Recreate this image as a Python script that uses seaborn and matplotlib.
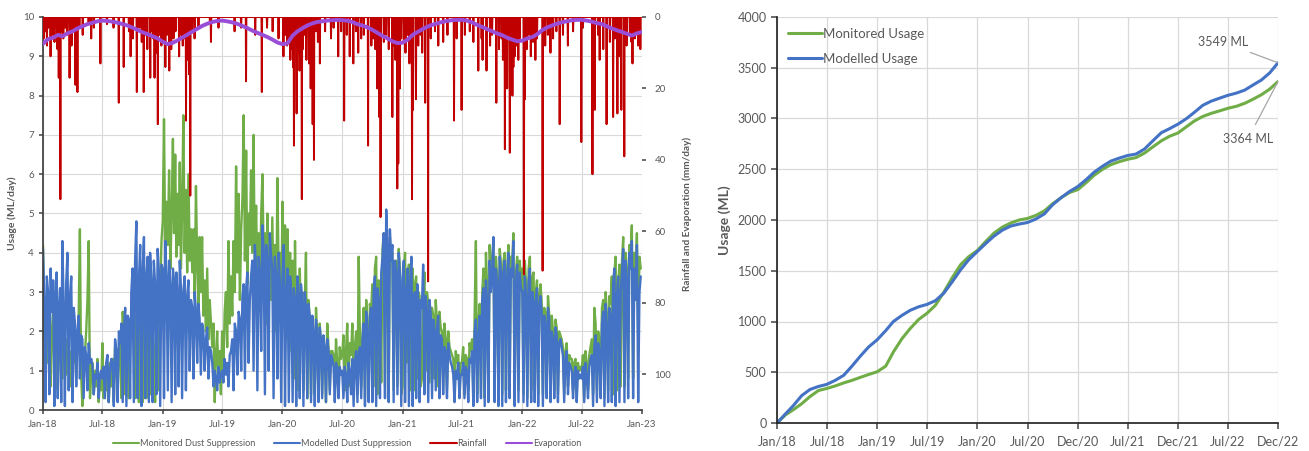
import numpy as np
import pandas as pd
import matplotlib
matplotlib.use("Agg")
import matplotlib.pyplot as plt
import matplotlib.dates as mdates
from matplotlib.lines import Line2D
import seaborn as sns

# ---------------- DATA ----------------
# Dust suppression usage (ML/day), 8 readings per month, Jan 2018 - Dec 2022
monitored_dust = [
    # 2018
    4.2, 2.0, 1.5, 2.8, 1.2, 2.4, 0.6, 2.0,   2.5, 1.0, 2.2, 1.8, 0.5, 2.0, 1.6, 0.9,
    0.8, 2.0, 1.6, 0.9, 1.8, 1.3, 0.6, 1.5,   1.5, 1.2, 2.0, 0.8, 1.6, 2.4, 4.6, 0.9,
    0.1, 1.0, 1.4, 2.0, 2.8, 4.3, 0.3, 1.0,   1.2, 0.4, 1.0, 0.6, 1.3, 0.2, 0.9, 0.5,
    1.7, 0.3, 1.1, 0.5, 0.9, 0.2, 1.2, 0.6,   1.3, 0.2, 1.6, 1.2, 0.4, 1.5, 2.0, 0.3,
    2.5, 1.8, 0.4, 2.2, 1.6, 0.3, 2.3, 1.9,   2.2, 1.8, 0.3, 2.4, 1.6, 0.2, 2.1, 1.5,
    0.2, 2.3, 1.9, 0.3, 2.1, 1.7, 0.4, 2.0,   2.0, 1.5, 0.2, 2.3, 1.8, 0.5, 3.0, 4.3,
    # 2019
    4.8, 7.4, 3.8, 5.3, 4.2, 6.1, 3.6, 5.0,   6.9, 4.5, 6.5, 3.9, 5.5, 4.2, 6.3, 3.6,
    5.0, 7.5, 4.0, 5.6, 3.5, 6.0, 3.8, 4.6,   3.5, 4.6, 2.8, 5.7, 3.8, 2.6, 4.4, 3.0,
    4.4, 2.4, 3.3, 2.0, 3.6, 1.8, 2.8, 2.2,   1.6, 2.2, 0.2, 1.4, 2.0, 0.8, 1.5, 0.4,
    2.0, 1.0, 2.5, 3.0, 1.6, 4.3, 2.2, 3.4,   2.4, 4.3, 3.0, 6.2, 3.5, 5.5, 2.8, 4.6,
    5.4, 7.5, 3.8, 6.6, 3.2, 5.0, 4.2, 6.1,   4.0, 7.0, 3.5, 5.2, 3.2, 4.5, 2.5, 5.0,
    6.0, 3.8, 4.5, 2.2, 5.0, 3.2, 4.4, 2.8,   4.9, 3.0, 4.2, 2.0, 5.9, 3.4, 4.0, 2.5,
    # 2020
    5.3, 3.0, 4.7, 1.8, 4.6, 2.5, 4.0, 1.5,   3.8, 0.8, 4.3, 2.0, 3.2, 0.5, 3.6, 2.2,
    3.0, 0.5, 2.6, 4.0, 0.3, 2.8, 2.2, 0.4,   2.2, 1.9, 0.4, 2.6, 1.8, 0.3, 2.2, 1.7,
    0.4, 1.8, 1.5, 0.2, 2.2, 1.6, 0.5, 1.5,   1.5, 1.4, 0.6, 1.8, 1.2, 0.4, 1.6, 1.3,
    1.4, 1.9, 0.5, 1.5, 2.2, 0.6, 1.7, 1.4,   2.2, 0.8, 1.6, 2.0, 0.4, 3.9, 1.8, 0.6,
    1.9, 2.6, 0.3, 2.8, 2.1, 0.5, 2.7, 2.5,   3.2, 0.6, 3.6, 3.9, 0.4, 3.3, 3.0, 0.7,
    4.1, 4.5, 0.6, 4.3, 4.0, 0.5, 4.4, 3.9,   4.0, 0.5, 3.7, 3.8, 0.6, 4.1, 3.6, 0.4,
    # 2021
    0.6, 3.5, 4.0, 1.2, 3.2, 3.7, 0.5, 3.4,   3.6, 0.5, 3.2, 3.4, 0.8, 3.0, 2.9, 0.6,
    0.8, 2.8, 3.5, 1.0, 3.0, 2.7, 0.7, 2.6,   2.6, 2.4, 0.8, 2.8, 2.2, 0.6, 2.5, 2.1,
    2.0, 0.6, 2.2, 1.8, 0.5, 2.0, 1.6, 1.5,   1.4, 1.3, 0.4, 1.5, 1.2, 1.4, 0.5, 1.2,
    1.2, 1.6, 0.4, 1.4, 1.3, 0.5, 1.7, 1.5,   1.8, 0.3, 2.4, 4.3, 0.4, 2.2, 2.7, 0.5,
    3.0, 3.6, 0.3, 4.0, 3.1, 0.4, 4.2, 3.4,   3.8, 4.3, 0.5, 3.9, 3.4, 0.4, 4.1, 3.7,
    0.4, 3.8, 4.0, 0.5, 3.6, 4.2, 0.6, 3.9,   3.7, 4.5, 0.3, 3.5, 3.9, 0.5, 3.8, 3.3,
    # 2022
    3.6, 0.4, 3.8, 3.2, 0.3, 3.6, 3.9, 0.5,   3.4, 3.5, 0.6, 3.0, 3.3, 0.4, 2.9, 3.2,
    2.8, 0.4, 2.6, 2.5, 0.5, 2.9, 2.4, 0.6,   2.4, 2.0, 0.5, 2.3, 2.1, 0.4, 2.0, 1.9,
    1.8, 1.6, 0.4, 1.5, 1.7, 0.6, 1.4, 1.3,   1.3, 0.5, 1.2, 1.3, 0.4, 1.2, 1.0, 1.1,
    1.0, 1.4, 0.3, 1.5, 1.2, 0.5, 1.4, 1.6,   1.8, 0.4, 2.6, 2.2, 0.5, 2.0, 1.8, 0.6,
    2.6, 2.8, 0.3, 3.0, 2.4, 0.5, 2.9, 2.7,   3.4, 0.4, 3.5, 3.9, 0.5, 3.2, 3.7, 0.6,
    3.8, 4.4, 0.6, 4.0, 3.6, 0.8, 4.2, 3.9,   4.7, 0.8, 4.0, 3.6, 4.5, 2.0, 3.9, 3.6,
]

modelled_dust = [
    # 2018
    4.1, 2.8, 0.2, 3.4, 3.0, 0.4, 3.6, 2.5,   3.3, 0.1, 2.9, 3.5, 0.3, 2.6, 3.1, 0.2,
    4.3, 2.7, 0.1, 3.2, 4.0, 0.5, 2.9, 3.4,   0.2, 2.6, 2.2, 0.6, 2.0, 2.4, 0.8, 1.9,
    1.8, 0.3, 1.6, 1.4, 0.5, 1.7, 1.2, 1.3,   1.1, 0.4, 0.9, 0.8, 1.2, 0.3, 0.9, 1.0,
    0.8, 1.1, 0.3, 1.2, 1.4, 0.2, 1.0, 1.3,   1.2, 0.1, 1.8, 1.5, 0.2, 2.0, 1.7, 2.2,
    0.2, 2.0, 2.6, 0.1, 2.4, 2.3, 0.3, 3.0,   3.6, 0.2, 3.8, 4.8, 0.3, 3.3, 4.2, 0.1,
    3.6, 4.4, 0.3, 3.4, 3.9, 0.2, 4.0, 3.3,   0.2, 3.8, 3.2, 0.4, 4.1, 3.5, 0.1, 3.7,
    # 2019
    3.6, 0.3, 4.3, 3.4, 0.5, 3.8, 3.2, 0.2,   3.6, 3.3, 0.4, 3.5, 2.9, 0.6, 3.8, 3.1,
    0.3, 3.0, 3.4, 0.5, 2.9, 3.3, 1.0, 2.8,   2.6, 0.8, 3.0, 2.5, 1.2, 2.7, 2.3, 0.9,
    2.2, 2.0, 1.0, 1.8, 2.1, 0.8, 1.6, 1.5,   1.2, 0.6, 1.0, 0.8, 0.5, 1.1, 0.7, 0.9,
    1.0, 0.7, 1.3, 0.9, 1.2, 0.6, 1.4, 1.5,   1.8, 0.5, 2.2, 2.0, 0.9, 2.5, 2.3, 1.0,
    2.9, 3.2, 0.8, 3.1, 3.5, 1.2, 2.8, 3.4,   3.8, 1.0, 4.2, 3.6, 0.5, 3.9, 3.5, 1.5,
    4.7, 4.0, 0.4, 4.2, 3.8, 1.0, 4.5, 3.9,   3.6, 0.3, 3.9, 3.4, 0.8, 4.0, 3.2, 0.2,
    # 2020
    3.3, 4.2, 0.1, 3.0, 3.6, 0.2, 3.4, 2.9,   0.2, 3.1, 2.8, 0.1, 3.4, 2.9, 0.3, 3.2,
    2.8, 0.1, 3.0, 2.6, 0.3, 2.7, 2.4, 0.2,   2.4, 2.0, 0.1, 2.3, 1.9, 0.2, 2.1, 1.8,
    0.3, 1.9, 1.6, 0.2, 1.8, 1.5, 0.4, 1.4,   1.3, 1.1, 0.2, 1.2, 1.0, 0.3, 1.1, 0.9,
    1.0, 0.3, 1.1, 0.9, 0.2, 1.2, 1.0, 0.4,   1.3, 0.1, 1.2, 1.5, 0.2, 1.4, 1.6, 0.3,
    1.8, 2.2, 0.1, 2.5, 1.9, 0.2, 2.4, 2.6,   0.2, 3.0, 3.4, 0.1, 3.1, 2.8, 0.3, 3.5,
    3.9, 4.5, 0.3, 5.1, 4.2, 0.2, 4.6, 3.8,   4.2, 0.2, 3.8, 3.5, 0.4, 4.0, 3.4, 0.1,
    # 2021
    3.3, 3.8, 0.2, 3.0, 3.6, 0.1, 3.2, 3.9,   0.1, 2.9, 3.0, 0.3, 3.2, 2.7, 0.2, 2.8,
    2.6, 3.7, 0.4, 2.9, 2.5, 0.2, 2.8, 2.4,   0.3, 2.3, 2.0, 0.5, 2.1, 2.4, 0.3, 1.9,
    1.8, 0.4, 1.6, 1.5, 0.3, 1.7, 1.4, 1.2,   1.1, 0.9, 0.2, 1.0, 0.8, 1.2, 0.3, 0.9,
    0.9, 1.2, 0.3, 1.1, 1.0, 0.2, 1.3, 1.2,   1.5, 0.1, 2.0, 2.3, 0.2, 1.9, 2.4, 0.3,
    2.8, 3.1, 0.1, 3.3, 2.7, 0.2, 3.8, 3.0,   3.4, 4.4, 0.2, 3.6, 3.2, 0.1, 3.9, 3.5,
    0.1, 3.5, 3.8, 0.2, 3.3, 4.0, 0.3, 3.6,   3.4, 4.3, 0.1, 3.2, 3.7, 0.2, 3.5, 3.1,
    # 2022
    3.0, 0.2, 3.4, 2.9, 0.1, 3.3, 3.6, 0.2,   3.0, 2.7, 0.2, 2.8, 3.1, 0.1, 2.6, 2.9,
    2.5, 0.1, 2.4, 2.2, 0.3, 2.6, 2.3, 0.2,   2.0, 1.8, 0.3, 2.1, 1.9, 0.2, 1.7, 1.8,
    1.6, 1.4, 0.2, 1.3, 1.5, 0.4, 1.2, 1.1,   1.0, 0.3, 0.9, 1.1, 0.2, 1.0, 0.8, 0.9,
    0.8, 1.1, 0.2, 1.2, 0.9, 0.3, 1.1, 1.3,   1.4, 0.1, 1.6, 1.9, 0.2, 1.7, 1.5, 0.3,
    2.2, 2.5, 0.1, 2.7, 2.1, 0.2, 2.6, 2.4,   0.2, 3.2, 3.6, 0.1, 2.9, 3.4, 0.2, 3.0,
    3.5, 4.1, 0.2, 3.8, 3.3, 0.3, 4.0, 3.6,   4.3, 0.3, 3.6, 2.8, 4.2, 0.2, 3.0, 3.4,
]

# Rainfall events (mm/day); all other days are dry
rain_dates = [
    "2018-01-03", "2018-01-09", "2018-01-13", "2018-01-17", "2018-01-24", "2018-01-29",
    "2018-02-05", "2018-02-10", "2018-02-14", "2018-02-18", "2018-02-23", "2018-02-27",
    "2018-03-04", "2018-03-10", "2018-03-15", "2018-03-23", "2018-03-29", "2018-04-03",
    "2018-04-10", "2018-04-16", "2018-04-22", "2018-05-02", "2018-05-20", "2018-05-28",
    "2018-06-05", "2018-06-25", "2018-07-15", "2018-08-04", "2018-08-20", "2018-09-04",
    "2018-09-20", "2018-09-25", "2018-10-02", "2018-10-14", "2018-10-22", "2018-10-29",
    "2018-11-04", "2018-11-10", "2018-11-15", "2018-11-24", "2018-11-30", "2018-12-03",
    "2018-12-07", "2018-12-12", "2018-12-17", "2018-12-22", "2018-12-28",
    "2019-01-03", "2019-01-09", "2019-01-14", "2019-01-21", "2019-01-27", "2019-02-03",
    "2019-02-09", "2019-02-20", "2019-02-26", "2019-03-03", "2019-03-07", "2019-03-13",
    "2019-03-19", "2019-03-22", "2019-03-26", "2019-03-31", "2019-04-08", "2019-04-20",
    "2019-05-25", "2019-05-28", "2019-06-20", "2019-08-08", "2019-08-28", "2019-09-12",
    "2019-10-10", "2019-10-30", "2019-11-15", "2019-12-02", "2019-12-20",
    "2020-01-04", "2020-01-10", "2020-01-15", "2020-01-20", "2020-01-25", "2020-01-30",
    "2020-02-02", "2020-02-05", "2020-02-08", "2020-02-13", "2020-02-18", "2020-02-22",
    "2020-02-25", "2020-02-29", "2020-03-03", "2020-03-08", "2020-03-14", "2020-03-22",
    "2020-03-27", "2020-04-02", "2020-04-06", "2020-04-13", "2020-04-18", "2020-04-24",
    "2020-05-10", "2020-05-28", "2020-06-05", "2020-06-19", "2020-06-28", "2020-07-07",
    "2020-07-15", "2020-07-24", "2020-08-04", "2020-08-12", "2020-08-19", "2020-08-28",
    "2020-09-05", "2020-09-18", "2020-09-28", "2020-10-05", "2020-10-10", "2020-10-16",
    "2020-10-22", "2020-10-26", "2020-11-05", "2020-11-12", "2020-11-20", "2020-12-01",
    "2020-12-05", "2020-12-10", "2020-12-16", "2020-12-19", "2020-12-24", "2020-12-28",
    "2021-01-05", "2021-01-10", "2021-01-16", "2021-01-22", "2021-01-30", "2021-02-02",
    "2021-02-11", "2021-02-18", "2021-02-25", "2021-03-02", "2021-03-11", "2021-03-20",
    "2021-03-28", "2021-04-10", "2021-04-20", "2021-05-05", "2021-05-18", "2021-06-07",
    "2021-06-15", "2021-06-30", "2021-07-10", "2021-07-25", "2021-08-05", "2021-08-20",
    "2021-08-30", "2021-09-02", "2021-09-14", "2021-09-25", "2021-10-01", "2021-10-14",
    "2021-10-22", "2021-10-30", "2021-11-03", "2021-11-09", "2021-11-12", "2021-11-16",
    "2021-11-20", "2021-11-24", "2021-11-29", "2021-12-02", "2021-12-05", "2021-12-09",
    "2021-12-14", "2021-12-20", "2021-12-24",
    "2022-01-06", "2022-01-09", "2022-01-15", "2022-01-20", "2022-01-27", "2022-02-03",
    "2022-02-10", "2022-02-15", "2022-03-04", "2022-03-12", "2022-03-20", "2022-03-28",
    "2022-04-05", "2022-04-15", "2022-04-25", "2022-05-05", "2022-05-20", "2022-06-05",
    "2022-06-30", "2022-07-05", "2022-08-03", "2022-08-10", "2022-08-20", "2022-08-25",
    "2022-09-05", "2022-09-15", "2022-09-25", "2022-10-05", "2022-10-10", "2022-10-18",
    "2022-10-24", "2022-10-30", "2022-11-08", "2022-11-15", "2022-11-25", "2022-11-30",
    "2022-12-03", "2022-12-10", "2022-12-15", "2022-12-20", "2022-12-27",
]
rain_mm = [
    6, 4, 8, 3, 11, 5,
    7, 3, 9, 17, 51, 4,
    6, 3, 5, 17, 8, 4,
    19, 21, 3, 5, 2, 6,
    3, 13, 2, 3, 24, 14,
    4, 11, 6, 21, 3, 7,
    21, 5, 9, 17, 4, 6,
    17, 10, 30, 5, 8,
    7, 14, 5, 15, 9, 6,
    4, 11, 5, 8, 6, 29,
    12, 16, 50, 4, 6, 3,
    2, 7, 3, 4, 3, 18,
    5, 21, 3, 4, 6,
    11, 5, 8, 6, 12, 9,
    14, 36, 7, 27, 10, 15,
    6, 51, 9, 5, 12, 13,
    20, 30, 40, 4, 7, 13,
    4, 6, 3, 11, 4, 29,
    5, 11, 13, 4, 10, 6,
    5, 36, 8, 6, 9, 20,
    28, 56, 7, 5, 9, 28,
    8, 12, 48, 41, 20, 6,
    7, 10, 5, 13, 51, 26,
    23, 8, 5, 10, 24, 74,
    6, 4, 8, 7, 5, 29,
    6, 26, 5, 4, 7, 15,
    6, 12, 15, 8, 5, 24,
    9, 6, 12, 37, 8, 20,
    6, 38, 10, 22, 14, 11,
    8, 12, 6,
    72, 23, 9, 5, 11, 7,
    12, 6, 71, 8, 5, 10,
    6, 4, 30, 5, 8, 4,
    35, 3, 44, 26, 5, 12,
    9, 30, 7, 28, 6, 27,
    11, 26, 39, 8, 5, 7,
    13, 6, 4, 8, 9,
]

# Evaporation (mm/day), values on the 1st and 16th of each month, 2018-2022
evaporation = [
    7.5, 6.2, 5.8, 5.0, 5.4, 4.6, 4.0, 3.2, 2.6, 2.0, 1.6, 1.2,
    1.0, 1.1, 1.3, 1.6, 2.0, 2.4, 3.0, 3.6, 4.3, 4.8, 5.4, 6.0,
    6.9, 7.6, 7.2, 6.5, 5.8, 5.0, 4.1, 3.3, 2.5, 1.9, 1.4, 1.1,
    1.0, 1.2, 1.5, 1.9, 2.5, 3.1, 3.8, 4.4, 5.0, 5.6, 6.3, 7.1,
    7.6, 7.4, 5.2, 4.0, 3.2, 2.4, 1.8, 1.4, 1.2, 1.0, 0.9, 0.8,
    0.9, 1.0, 1.4, 2.0, 2.4, 2.9, 3.6, 4.4, 5.3, 6.0, 6.8, 7.3,
    7.2, 6.4, 5.0, 4.2, 3.5, 2.8, 2.2, 1.8, 1.4, 1.1, 0.9, 0.8,
    0.8, 1.0, 1.5, 2.2, 2.8, 3.4, 4.0, 4.6, 5.1, 5.8, 6.3, 6.8,
    6.6, 6.0, 5.6, 4.8, 3.8, 3.0, 2.4, 1.9, 1.5, 1.2, 0.9, 0.8,
    0.8, 1.0, 1.3, 1.7, 2.0, 2.6, 3.2, 3.7, 4.2, 4.7, 5.2, 4.6,
    4.2,
]

# Cumulative usage (ML), start of each month Jan 2018 - Dec 2022, then 31 Dec 2022
monitored_cum = [
    0, 80, 130, 190, 260, 320, 340, 365, 395, 420, 450, 478,
    505, 560, 700, 830, 930, 1020, 1080, 1160, 1290, 1430, 1560, 1640,
    1700, 1790, 1870, 1930, 1970, 2000, 2015, 2045, 2090, 2160, 2220, 2270,
    2300, 2370, 2440, 2500, 2545, 2575, 2598, 2615, 2660, 2720, 2780, 2825,
    2858, 2920, 2975, 3020, 3050, 3075, 3100, 3120, 3150, 3190, 3235, 3290,
    3364,
]
modelled_cum = [
    0, 90, 170, 270, 330, 360, 380, 420, 470, 560, 660, 750,
    820, 910, 1000, 1060, 1110, 1145, 1168, 1205, 1280, 1390, 1510, 1610,
    1690, 1770, 1840, 1900, 1940, 1960, 1975, 2010, 2060, 2150, 2220, 2280,
    2330, 2400, 2470, 2530, 2580, 2610, 2635, 2650, 2700, 2780, 2860, 2900,
    2945, 3000, 3060, 3130, 3170, 3200, 3228, 3250, 3280, 3330, 3380, 3450,
    3549,
]
right_tick_labels = ["Jan/18", "Jul/18", "Jan/19", "Jul/19", "Jan/20", "Jul/20",
                     "Dec/20", "Jul/21", "Dec/21", "Jul/22", "Dec/22"]

# ---------------- STYLE ----------------
GREEN = "#70AD47"
BLUE = "#4472C4"
RED = "#C00000"
PURPLE = "#9A4ED8"
GRID = "#D9D9D9"
TXT = "#595959"

sns.set_theme(style="white")
plt.rcParams["font.family"] = ["Lato", "DejaVu Sans"]

W, H = 1309, 451
fig = plt.figure(figsize=(W / 100, H / 100), dpi=100)

def rect(x0, y0, x1, y1):
    return [x0 / W, 1 - y1 / H, (x1 - x0) / W, (y1 - y0) / H]

ax1 = fig.add_axes(rect(43, 17, 642, 410))
ax2 = ax1.twinx()
ax3 = fig.add_axes(rect(777, 17, 1278, 423))

# ---------------- LEFT PANEL ----------------
ms = pd.date_range("2018-01-01", "2022-12-01", freq="MS")
dust_dates = []
for m in ms:
    step = m.days_in_month / 8.0
    dust_dates.extend([m + pd.Timedelta(days=i * step) for i in range(8)])
dust = pd.DataFrame({"date": dust_dates,
                     "Monitored": monitored_dust,
                     "Modelled": modelled_dust})
sns.lineplot(data=dust, x="date", y="Monitored", ax=ax1, color=GREEN, lw=1.7,
             estimator=None)
sns.lineplot(data=dust, x="date", y="Modelled", ax=ax1, color=BLUE, lw=1.7,
             estimator=None)

days = pd.date_range("2018-01-01", "2022-12-31", freq="D")
ev = pd.Series(rain_mm, index=pd.to_datetime(rain_dates)).groupby(level=0).max()
rain = pd.Series(0.0, index=days)
rain.loc[ev.index] = ev.values
rain_df = pd.DataFrame({"date": days, "Rainfall": rain.values})
sns.lineplot(data=rain_df, x="date", y="Rainfall", ax=ax2, color=RED, lw=1.4,
             estimator=None)

evap_dates = sorted(list(ms) + list(ms + pd.Timedelta(days=15))) + [pd.Timestamp("2022-12-31")]
evap_df = pd.DataFrame({"date": evap_dates, "Evaporation": evaporation})
sns.lineplot(data=evap_df, x="date", y="Evaporation", ax=ax2, color=PURPLE, lw=2.8,
             estimator=None)

ax1.set_xlim(pd.Timestamp("2018-01-01"), pd.Timestamp("2023-01-01"))
ax1.set_ylim(0, 10)
ax1.set_yticks(range(0, 11))
xt = pd.date_range("2018-01-01", "2023-01-01", freq="6MS")
ax1.set_xticks(xt)
ax1.set_xticklabels([d.strftime("%b-%y") for d in xt])
ax2.set_ylim(110, 0)
ax2.set_yticks(range(0, 101, 20))

ax1.grid(True, color=GRID, lw=0.8)
ax1.set_axisbelow(True)
ax1.set_xlabel("")
ax2.set_xlabel("")
ax1.set_ylabel("Usage (ML/day)", fontsize=7.5, fontweight="bold", color=TXT, labelpad=4)
ax2.set_ylabel("Rainfall and Evaporation (mm/day)", fontsize=7.2, fontweight="bold",
               color=TXT, labelpad=8)
for s in ["top", "right"]:
    ax1.spines[s].set_visible(False)
for s in ["top", "right", "left", "bottom"]:
    ax2.spines[s].set_visible(False)
ax1.spines["left"].set_color("#404040")
ax1.spines["bottom"].set_color("#404040")
ax1.tick_params(axis="both", labelsize=7, colors=TXT, length=3, direction="out",
                left=True, bottom=True)
ax1.tick_params(axis="x", pad=4)
ax2.tick_params(axis="y", labelsize=7, colors=TXT, length=3, right=True, pad=6)

handles = [Line2D([], [], color=GREEN, lw=1.5), Line2D([], [], color=BLUE, lw=1.5),
           Line2D([], [], color=RED, lw=1.5), Line2D([], [], color=PURPLE, lw=1.5)]
labels = ["Monitored Dust Suppression", "Modelled Dust Suppression", "Rainfall", "Evaporation"]
fig.legend(handles, labels, loc="center", bbox_to_anchor=(347 / W, 1 - 444 / H), ncol=4,
           frameon=False, fontsize=6.6, labelcolor=TXT, handlelength=2.9, handletextpad=0.1,
           columnspacing=2.0)

# ---------------- RIGHT PANEL ----------------
cum_dates = list(ms) + [pd.Timestamp("2022-12-31")]
cum = pd.DataFrame({"date": cum_dates, "Monitored Usage": monitored_cum,
                    "Modelled Usage": modelled_cum})
sns.lineplot(data=cum, x="date", y="Monitored Usage", ax=ax3, color=GREEN, lw=2.2,
             label="Monitored Usage")
sns.lineplot(data=cum, x="date", y="Modelled Usage", ax=ax3, color=BLUE, lw=2.2,
             label="Modelled Usage")

x0 = mdates.date2num(pd.Timestamp("2018-01-01"))
x1 = mdates.date2num(pd.Timestamp("2022-12-31"))
ax3.set_xlim(x0, x1)
ax3.set_ylim(0, 4000)
ax3.set_yticks(range(0, 4001, 500))
ax3.set_xticks(np.linspace(x0, x1, len(right_tick_labels)))
ax3.set_xticklabels(right_tick_labels)
ax3.grid(True, color=GRID, lw=0.9)
ax3.set_axisbelow(True)
ax3.set_xlabel("")
ax3.set_ylabel("Usage (ML)", fontsize=10, fontweight="bold", color=TXT, labelpad=5)
for s in ["top", "right"]:
    ax3.spines[s].set_visible(False)
ax3.spines["left"].set_color("#262626")
ax3.spines["bottom"].set_color("#262626")
ax3.tick_params(axis="both", labelsize=9, colors=TXT, length=4, direction="out",
                left=True, bottom=True)
ax3.tick_params(axis="x", pad=5)
ax3.legend(loc="upper left", bbox_to_anchor=(0.0, 1.0), frameon=False, fontsize=9.5,
           labelcolor=TXT, handlelength=2.6, handletextpad=0.1, labelspacing=1.0,
           borderaxespad=0.4)

ax3.annotate("3549 ML", xy=(x1, modelled_cum[-1]), xytext=(0.94, 0.938),
             textcoords="axes fraction", ha="right", va="center", fontsize=9, color=TXT,
             arrowprops=dict(arrowstyle="-", color="#A6A6A6", lw=0.9, shrinkA=2, shrinkB=0),
             annotation_clip=False)
ax3.annotate("3364 ML", xy=(x1, monitored_cum[-1]), xytext=(0.94, 0.70),
             textcoords="axes fraction", ha="center", va="center", fontsize=9, color=TXT,
             arrowprops=dict(arrowstyle="-", color="#A6A6A6", lw=0.9, shrinkA=4, shrinkB=0),
             annotation_clip=False)

fig.savefig("out.png", dpi=100)
